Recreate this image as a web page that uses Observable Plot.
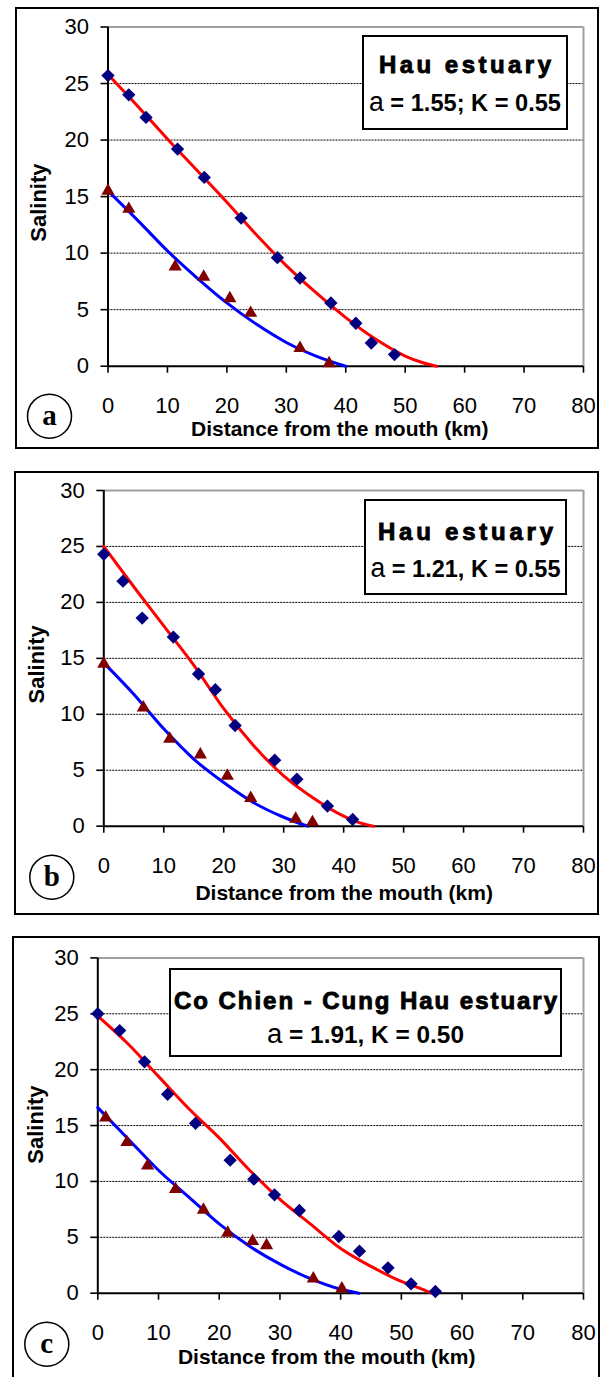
<!DOCTYPE html>
<html><head><meta charset="utf-8">
<script src="https://cdn.jsdelivr.net/npm/d3@7"></script>
<script src="https://cdn.jsdelivr.net/npm/@observablehq/plot@0.6"></script>
<style>
body{margin:0;background:#fff;}
#wrap{position:relative;width:602px;height:1377px;overflow:hidden;font-family:"Liberation Sans",Arial,sans-serif;}
.box{position:absolute;border:2px solid #000;box-sizing:border-box;pointer-events:none;background:transparent;}
.panel{position:absolute;left:0;}
</style></head><body><div id="wrap"></div>
<script>
const FONT = '"Liberation Sans", Arial, sans-serif';
const xTicks = [0,10,20,30,40,50,60,70,80];
const yTicks = [0,5,10,15,20,25,30];
const gridLevels = [5,10,15,20,25];
const xTitle = "Distance from the mouth (km)";
const yTitle = "Salinity";

// Panel a — Hau estuary, a = 1.55; K = 0.55
const aSeaDist = [0,3.5,6.4,11.7,16.2,22.4,28.5,32.3,37.5,41.7,44.3,48.2];
const aSeaSal  = [25.7,24.0,22.0,19.2,16.7,13.1,9.6,7.8,5.6,3.8,2.05,1.03];
const aRivDist = [0,3.5,11.3,16.1,20.5,24.0,32.3,37.2];
const aRivSal  = [15.5,13.9,8.8,7.9,6.0,4.7,1.6,0.25];
const aFitSeaDist = [0,5,10,15,20,25,30,35,40,45,50,53,55.3];
const aFitSeaSal  = [25.8,23.0,20.1,17.3,14.5,11.6,8.9,6.5,4.3,2.4,0.9,0.3,0];
const aFitRivDist = [0,5,10,15,20,25,30,35,40];
const aFitRivSal  = [15.5,12.9,10.2,7.8,5.6,3.7,2.1,0.9,0];
const aTitle = "Hau estuary";
const aParams = ["a", " = 1.55; K = 0.55"];

// Panel b — Hau estuary, a = 1.21, K = 0.55
const bSeaDist = [0,3.2,6.4,11.6,15.8,18.6,21.9,28.5,32.2,37.3,41.5];
const bSeaSal  = [24.3,21.9,18.6,16.9,13.6,12.2,9.0,5.9,4.2,1.8,0.6];
const bRivDist = [0,6.6,11.0,16.1,20.6,24.5,32.0,34.8];
const bRivSal  = [14.5,10.6,7.8,6.4,4.5,2.5,0.65,0.35];
const bFitSeaDist = [0,5,10,15,20,25,30,35,40,43,45];
const bFitSeaSal  = [25.0,21.4,17.9,14.4,10.5,7.2,4.5,2.5,0.9,0.25,0];
const bFitRivDist = [0,5,10,15,20,25,30,34];
const bFitRivSal  = [14.6,11.8,8.7,6.0,3.9,2.1,0.8,0];
const bTitle = "Hau estuary";
const bParams = ["a", " = 1.21, K = 0.55"];

// Panel c — Co Chien - Cung Hau estuary, a = 1.91, K = 0.50
const cSeaDist = [0,3.6,7.7,11.5,16.1,21.8,25.7,29.1,33.2,39.7,43.1,47.8,51.6,55.6];
const cSeaSal  = [25.0,23.5,20.7,17.8,15.2,11.9,10.2,8.8,7.4,5.07,3.76,2.27,0.84,0.15];
const cRivDist = [1.3,4.8,8.2,12.8,17.4,21.4,25.5,27.8,35.5,40.2];
const cRivSal  = [15.7,13.5,11.4,9.3,7.45,5.4,4.65,4.27,1.3,0.4];
const cFitSeaDist = [0,5,10,15,20,25,30,35,40,45,50,53,55];
const cFitSeaSal  = [24.8,22.3,19.4,16.5,13.9,11.0,8.4,6.2,4.0,2.4,1.05,0.45,0];
const cFitRivDist = [0,5,10,15,20,25,30,35,40,43];
const cFitRivSal  = [16.6,13.8,11.0,8.6,6.2,4.2,2.6,1.3,0.35,0];
const cTitle = "Co Chien - Cung Hau estuary";
const cParams = ["a", " = 1.91, K = 0.50"];

function pts(xs, ys){ return xs.map((d,i)=>({d, s: ys[i]})); }

function panel(cfg){
  const svg = Plot.plot({
    width: 602, height: cfg.h,
    marginLeft: cfg.ml, marginRight: 19, marginTop: cfg.mt, marginBottom: cfg.mb,
    style: {background:"transparent", fontFamily:FONT, fontSize:"22px", color:"#000", overflow:"visible"},
    x: {domain:[0,80], ticks:xTicks, tickSize:7, tickPadding:24, label:null},
    y: {domain:[0,30], ticks:yTicks, tickSize:7, tickPadding:12, label:null},
    marks: [
      Plot.ruleY(gridLevels, {stroke:"#000", strokeWidth:1, strokeDasharray:"2,1"}),
      Plot.ruleY([30], {stroke:"#a0a0a0", strokeWidth:2}),
      Plot.ruleX([80], {stroke:"#a0a0a0", strokeWidth:2}),
      Plot.ruleX([0], {stroke:"#000", strokeWidth:2}),
      Plot.ruleY([0], {stroke:"#000", strokeWidth:2}),
      Plot.line(pts(cfg.fitSeaD, cfg.fitSeaS), {x:"d", y:"s", stroke:"#ff0000", strokeWidth:3, curve:"monotone-x"}),
      Plot.line(pts(cfg.fitRivD, cfg.fitRivS), {x:"d", y:"s", stroke:"#0000ff", strokeWidth:3, curve:"monotone-x"}),
      Plot.dot(pts(cfg.seaD, cfg.seaS), {x:"d", y:"s", symbol:"diamond2", fill:"#000080", stroke:"none", r:6}),
      Plot.dot(pts(cfg.rivD, cfg.rivS), {x:"d", y:"s", symbol:"triangle", fill:"#800000", stroke:"none", r:4.9}),
      Plot.text([xTitle], {frameAnchor:"bottom", textAnchor:"middle", lineAnchor:"middle", dx:cfg.xt[0], dy:cfg.xt[1], fontWeight:"bold", fontSize:21, ariaLabel:"xtitle"}),
      Plot.text([yTitle], {frameAnchor:"left", textAnchor:"middle", lineAnchor:"middle", rotate:-90, dx:cfg.yt[0], dy:cfg.yt[1], fontWeight:"bold", fontSize:22, ariaLabel:"ytitle"}),
      Plot.dot([0], {frameAnchor:"bottom-left", dx:cfg.circ[0], dy:cfg.circ[1], r:22, stroke:"#000", strokeWidth:1.5, fill:"#fff"}),
      Plot.text([cfg.letter], {frameAnchor:"bottom-left", textAnchor:"middle", lineAnchor:"middle", dx:cfg.circ[0], dy:cfg.circ[1], fontFamily:'"Liberation Serif", "Times New Roman", serif', fontWeight:"bold", fontSize:29})
    ]
  });
  const s = d3.select(svg);
  s.selectAll('[aria-label="xtitle"] text').attr("textLength", cfg.xLen).attr("lengthAdjust","spacing");
  s.selectAll('[aria-label="ytitle"] text').attr("textLength", cfg.yLen).attr("lengthAdjust","spacing");
  s.selectAll('[aria-label^="x-axis"] path, [aria-label^="y-axis"] path, [aria-label^="x-axis"] line, [aria-label^="y-axis"] line').attr("stroke-width", 1.6);
  const L = cfg.lg;
  const g = s.append("g").attr("font-family", FONT);
  g.append("rect").attr("x",L.x).attr("y",L.y).attr("width",L.w).attr("height",L.h)
    .attr("fill","#fff").attr("stroke","#000").attr("stroke-width",2);
  const cx = L.x + L.w/2;
  g.append("text").attr("x",cx).attr("y",L.ty).attr("text-anchor","middle")
    .attr("font-weight","bold").attr("font-size",24).attr("fill","#000")
    .attr("stroke","#000").attr("stroke-width",0.9)
    .attr("textLength",L.tl).attr("lengthAdjust","spacing").text(cfg.title);
  const t2 = g.append("text").attr("x",cx).attr("y",L.py).attr("text-anchor","middle").attr("fill","#000")
    .attr("textLength",L.pl).attr("lengthAdjust","spacingAndGlyphs");
  t2.append("tspan").attr("font-size",27).attr("font-weight","normal").text(cfg.params[0]);
  t2.append("tspan").attr("font-size",24).attr("font-weight","bold").text(cfg.params[1]);
  svg.classList.add("panel");
  svg.style.top = cfg.top + "px";
  return svg;
}

const wrap = document.getElementById("wrap");
const cfgs = [
  {top:0, h:455, ml:107.5, mt:26.5, mb:89.3, xt:[-6,63], yt:[-69.5,6], circ:[-58.5,50], letter:"a", xLen:332, yLen:83,
   seaD:aSeaDist, seaS:aSeaSal, rivD:aRivDist, rivS:aRivSal, fitSeaD:aFitSeaDist, fitSeaS:aFitSeaSal, fitRivD:aFitRivDist, fitRivS:aFitRivSal,
   title:aTitle, params:aParams, lg:{x:363,y:36,w:204,h:93,ty:73,py:111,tl:172,pl:192}},
  {top:460, h:460, ml:103.3, mt:30, mb:94.3, xt:[0.5,67], yt:[-67,6], circ:[-52,51], letter:"b", xLen:335, yLen:82,
   seaD:bSeaDist, seaS:bSeaSal, rivD:bRivDist, rivS:bRivSal, fitSeaD:bFitSeaDist, fitSeaS:bFitSeaSal, fitRivD:bFitRivDist, fitRivS:bFitRivSal,
   title:bTitle, params:bParams, lg:{x:365,y:40,w:201,h:94,ty:80,py:116.5,tl:175,pl:190}},
  {top:930, h:447, ml:97.3, mt:27.4, mb:84.3, xt:[-14,64], yt:[-62,-1], circ:[-51,51], letter:"c", xLen:350, yLen:86,
   seaD:cSeaDist, seaS:cSeaSal, rivD:cRivDist, rivS:cRivSal, fitSeaD:cFitSeaDist, fitSeaS:cFitSeaSal, fitRivD:cFitRivDist, fitRivS:cFitRivSal,
   title:cTitle, params:cParams, lg:{x:170,y:39,w:391,h:87,ty:79,py:113,tl:383,pl:197}}
];
cfgs.forEach(c => wrap.appendChild(panel(c)));
[[15,7,584,442],[14,471,585,444],[12,936,588,460]].forEach(([l,t,w,h]) => {
  const d = document.createElement("div");
  d.className = "box";
  d.style.left = l+"px"; d.style.top = t+"px"; d.style.width = w+"px"; d.style.height = h+"px";
  wrap.appendChild(d);
});
</script></body></html>
